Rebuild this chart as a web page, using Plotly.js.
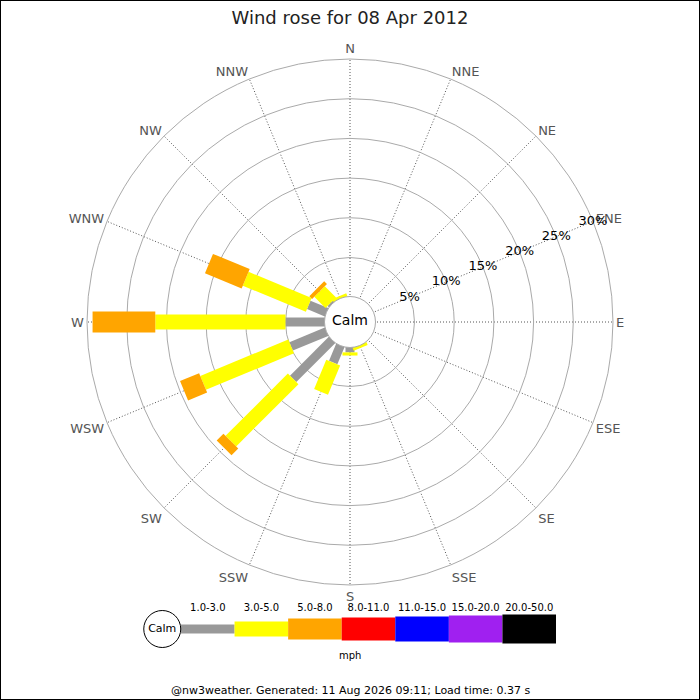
<!DOCTYPE html>
<html>
<head>
<meta charset="utf-8">
<script src="https://cdn.plot.ly/plotly-3.0.1.min.js"></script>
<style>
  html, body { margin: 0; padding: 0; background: #fff; }
  #chart { width: 700px; height: 700px; }
</style>
</head>
<body>
<div id="chart"></div>
<script>
// compass points, clockwise from north
const directions = ['N', 'NNE', 'NE', 'ENE', 'E', 'ESE', 'SE', 'SSE',
                    'S', 'SSW', 'SW', 'WSW', 'W', 'WNW', 'NW', 'NNW'];

// speed bands (mph)
const bandLabels = ['1.0-3.0', '3.0-5.0', '5.0-8.0', '8.0-11.0', '11.0-15.0', '15.0-20.0', '20.0-50.0'];
const bandColors = ['#999999', '#ffff00', '#ffa500', '#ff0000', '#0000ff', '#a020f0', '#000000'];
const bandWidths = [9, 15, 21, 23, 25, 27, 29];   // px, bar thickness

// % of time per direction for each band
const band1to3   = [0, 0, 0, 0, 0, 0, 0, 0,   0.7, 2.4, 7.0, 4.9, 5.0, 2.5, 0.3, 0];
const band3to5   = [0, 0, 0, 0, 0, 0, 0, 0.4, 0.4, 4.0, 11.1, 12.0, 16.4, 8.6, 2.0, 0.4];
const band5to8   = [0, 0, 0, 0, 0, 0, 0, 0,   0,   0,   1.2, 2.6, 7.9, 5.0, 0.5, 0];
const band8to11  = [0, 0, 0, 0, 0, 0, 0, 0, 0, 0, 0, 0, 0, 0, 0, 0];
const band11to15 = [0, 0, 0, 0, 0, 0, 0, 0, 0, 0, 0, 0, 0, 0, 0, 0];
const band15to20 = [0, 0, 0, 0, 0, 0, 0, 0, 0, 0, 0, 0, 0, 0, 0, 0];
const band20to50 = [0, 0, 0, 0, 0, 0, 0, 0, 0, 0, 0, 0, 0, 0, 0, 0];
const bands = [band1to3, band3to5, band5to8, band8to11, band11to15, band15to20, band20to50];

// radial ticks
const radialTicks = [5, 10, 15, 20, 25, 30];
const radialTickText = ['5%', '10%', '15%', '20%', '25%', '30%'];
const radialMin = -3.125;  // leaves room for the calm circle

const font = 'DejaVu Sans, Verdana, sans-serif';

const data = [];

// stacked radial bars drawn as thick line segments
let cumulative = directions.map(() => 0);
bands.forEach((values, b) => {
    const r = [], theta = [];
    values.forEach((v, i) => {
        if (v > 0) {
            r.push(cumulative[i], cumulative[i] + v, null);
            theta.push(directions[i], directions[i], directions[i]);
            cumulative[i] += v;
        }
    });
    if (r.length) {
        data.push({
            type: 'scatterpolar',
            r: r, theta: theta,
            mode: 'lines',
            connectgaps: false,
            line: { color: bandColors[b], width: bandWidths[b] },
            hoverinfo: 'skip',
            showlegend: false
        });
    }
});

// radial tick labels along ENE
data.push({
    type: 'scatterpolar',
    r: radialTicks,
    theta: radialTicks.map(() => 'ENE'),
    mode: 'text',
    text: radialTickText,
    textposition: 'middle center',
    textfont: { family: font, size: 13, color: '#000' },
    hoverinfo: 'skip',
    showlegend: false
});

// calm circle
data.push({
    type: 'scatterpolar',
    r: [radialMin],
    theta: ['N'],
    mode: 'markers+text',
    marker: { size: 51, color: '#fff', line: { color: '#aaa', width: 1 } },
    text: ['Calm'],
    textposition: 'middle center',
    textfont: { family: font, size: 14, color: '#000' },
    hoverinfo: 'skip',
    showlegend: false
});

// key underneath
const bandIndex = bandLabels.map((_, i) => i);
data.push({
    type: 'bar',
    xaxis: 'x', yaxis: 'y',
    x: bandIndex,
    y: bandWidths,
    base: bandWidths.map(w => -w / 2),
    width: 1,
    marker: { color: bandColors, line: { width: 0 } },
    hoverinfo: 'skip',
    showlegend: false
});
data.push({
    type: 'scatter',
    xaxis: 'x', yaxis: 'y',
    x: [-0.85], y: [0],
    mode: 'markers+text',
    cliponaxis: false,
    marker: { size: 37, color: '#fff', line: { color: '#000', width: 1 } },
    text: ['Calm'],
    textposition: 'middle center',
    textfont: { family: font, size: 11, color: '#000' },
    hoverinfo: 'skip',
    showlegend: false
});

const layout = {
    width: 700,
    height: 700,
    margin: { l: 0, r: 0, t: 0, b: 0 },
    paper_bgcolor: '#fff',
    showlegend: false,
    font: { family: font },
    title: {
        text: 'Wind rose for 08 Apr 2012',
        font: { family: font, size: 18, color: '#222' },
        x: 0.5, xanchor: 'center',
        y: 0.975, yanchor: 'middle'
    },
    polar: {
        domain: { x: [0.1243, 0.8757], y: [0.1643, 0.9157] },
        bgcolor: '#fff',
        radialaxis: {
            range: [radialMin, 30],
            tickvals: [0].concat(radialTicks),
            showticklabels: false,
            ticks: '',
            showline: false,
            gridcolor: '#aaa',
            gridwidth: 1,
            angle: 22.5,
            layer: 'below traces'
        },
        angularaxis: {
            type: 'category',
            categoryarray: directions,
            direction: 'clockwise',
            rotation: 90,
            ticks: '',
            showline: true,
            linecolor: '#aaa',
            linewidth: 1,
            gridcolor: '#555',
            griddash: '1px,2px',
            gridwidth: 1,
            tickfont: { family: font, size: 13, color: '#555' },
            layer: 'below traces'
        }
    },
    xaxis: {
        domain: [143.5 / 700, 556 / 700],
        range: [-1.2, 6.5],
        side: 'top',
        tickvals: bandIndex,
        ticktext: bandLabels,
        tickfont: { family: font, size: 10, color: '#000' },
        ticks: '',
        showgrid: false,
        zeroline: false,
        showline: false,
        fixedrange: true
    },
    yaxis: {
        domain: [56 / 700, 86 / 700],
        range: [-15, 15],
        visible: false,
        fixedrange: true
    },
    annotations: [
        {
            text: 'mph', xref: 'paper', yref: 'paper', x: 0.5, y: 45 / 700,
            xanchor: 'center', yanchor: 'middle',
            showarrow: false, font: { family: font, size: 10, color: '#000' }
        },
        {
            text: '@nw3weather. Generated: 11 Aug 2026 09:11; Load time: 0.37 s',
            xref: 'paper', yref: 'paper', x: 0.5, y: 10 / 700,
            xanchor: 'center', yanchor: 'middle',
            showarrow: false, font: { family: font, size: 11, color: '#000' }
        }
    ],
    shapes: [
        {
            type: 'rect', xref: 'paper', yref: 'paper', x0: 0, x1: 1, y0: 0, y1: 1,
            line: { color: '#000', width: 2 }, layer: 'above'
        }
    ]
};

Plotly.newPlot('chart', data, layout, { displayModeBar: false, staticPlot: true });
</script>
</body>
</html>
